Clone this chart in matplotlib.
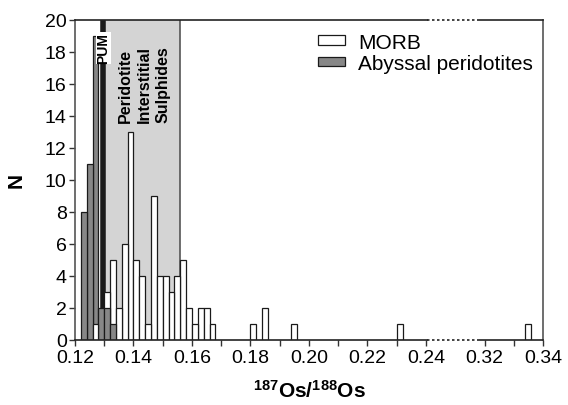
import matplotlib
matplotlib.use("Agg")
import numpy as np
import matplotlib.pyplot as plt

plt.rcParams['font.family'] = ['Liberation Sans', 'DejaVu Sans']
plt.rcParams['mathtext.fontset'] = 'custom'
plt.rcParams['mathtext.rm'] = 'Liberation Sans:bold'
plt.rcParams['mathtext.default'] = 'rm'

# histogram bins (left edge, 187Os/188Os) and counts
bin_width = 0.002
morb_bins = [0.126, 0.130, 0.132, 0.134, 0.136, 0.138, 0.140, 0.142, 0.144,
             0.146, 0.148, 0.150, 0.152, 0.154, 0.156, 0.158, 0.160, 0.162,
             0.164, 0.166, 0.180, 0.184, 0.194, 0.230, 0.334]
morb_counts = [1, 3, 5, 2, 6, 13, 5, 4, 1, 9, 4, 4, 3, 4, 5, 2, 1, 2, 2, 1,
               1, 2, 1, 1, 1]
abyssal_bins = [0.122, 0.124, 0.126, 0.128, 0.130, 0.132]
abyssal_counts = [8, 11, 19, 2, 2, 1]

pum = 0.1296
sulphide_range = (0.1296, 0.156)

major_ticks = [0.12, 0.14, 0.16, 0.18, 0.20, 0.22, 0.24, 0.32, 0.34]
minor_ticks = [0.13, 0.15, 0.17, 0.19, 0.21, 0.23, 0.33]


def axis_x(v):
    # broken axis: 0.24-0.32 squeezed into one 0.02 step
    v = np.asarray(v, dtype=float)
    return np.where(v <= 0.24, v,
                    np.where(v >= 0.32, v - 0.06, 0.24 + (v - 0.24) * 0.25))


fig = plt.figure(figsize=(5.68, 4.06), dpi=100)
ax = fig.add_axes([0.132, 0.161, 0.824, 0.788])

ax.axvspan(sulphide_range[0], sulphide_range[1], ymin=0, ymax=1,
           facecolor='#d4d4d4', edgecolor='none', zorder=1)
ax.axvline(sulphide_range[1], color='#555555', lw=1.2, zorder=1.5)
ax.axvline(pum, color='#1a1a1a', lw=4, zorder=2.5)

morb = ax.bar(axis_x(morb_bins), morb_counts, width=bin_width, align='edge',
              facecolor='white', edgecolor='#1a1a1a', lw=0.9, label='MORB')
aby = ax.bar(axis_x(abyssal_bins), abyssal_counts, width=bin_width, align='edge',
             facecolor='#878787', edgecolor='#1a1a1a', lw=0.9,
             label='Abyssal peridotites')
# shorter bar of a shared bin sits in front
for rect in list(morb) + list(aby):
    rect.set_zorder(3 + (20 - rect.get_height()) / 100)

ax.text(pum + 0.00015, 19.2, 'PUM', rotation=90, ha='center', va='top',
        family=['Liberation Sans Narrow', 'Liberation Sans'], fontweight='bold',
        fontsize=10, zorder=6,
        bbox=dict(facecolor='white', edgecolor='none', pad=0.2))
ax.text(0.1437, 13.6, 'Peridotite\nInterstitial\nSulphides', rotation=90,
        ha='center', va='bottom', multialignment='left', linespacing=1.35,
        family=['Liberation Sans Narrow', 'Liberation Sans'], fontweight='bold',
        fontsize=11.5, zorder=6)

ax.set_xlim(0.12, 0.28)
ax.set_ylim(0, 20)
ax.set_xticks(axis_x(major_ticks))
ax.set_xticklabels(['%.2f' % t for t in major_ticks])
ax.set_xticks(axis_x(minor_ticks), minor=True)
ax.set_yticks(np.arange(0, 21, 2))
ax.tick_params(axis='both', which='both', direction='out', length=4,
               width=1, color='#333333', labelsize=14)
ax.tick_params(axis='x', which='both', pad=3)
ax.tick_params(axis='y', pad=2)

# bottom and top frame lines with dotted section over the break
ax.spines['bottom'].set_visible(False)
ax.spines['top'].set_visible(False)
for spine in ['left', 'right']:
    ax.spines[spine].set_color('#555555')
    ax.spines[spine].set_linewidth(1.2)
brk = (0.2405, 0.2585)
tr = ax.get_xaxis_transform()
for yy in [0, 1]:
    ax.plot([0.12, brk[0]], [yy, yy], color='#222222', lw=1.2, transform=tr,
            clip_on=False, zorder=7)
    ax.plot([brk[1], 0.28], [yy, yy], color='#222222', lw=1.2, transform=tr,
            clip_on=False, zorder=7)
    ax.plot(brk, [yy, yy], color='#222222', lw=1.2, ls=(0, (1.5, 1.5)),
            transform=tr, clip_on=False, zorder=7)

ax.set_xlabel(r'$^{187}$Os/$^{188}$Os', fontsize=15, fontweight='bold', labelpad=9)
ax.set_ylabel('N', fontsize=15, fontweight='bold', labelpad=14)

ax.legend(loc='upper left', bbox_to_anchor=(0.52, 0.96), frameon=False,
          fontsize=15, handlelength=1.3, handleheight=0.3, handletextpad=0.6,
          labelspacing=0.1, borderpad=0, borderaxespad=0)

fig.savefig('out.png', dpi=100)
